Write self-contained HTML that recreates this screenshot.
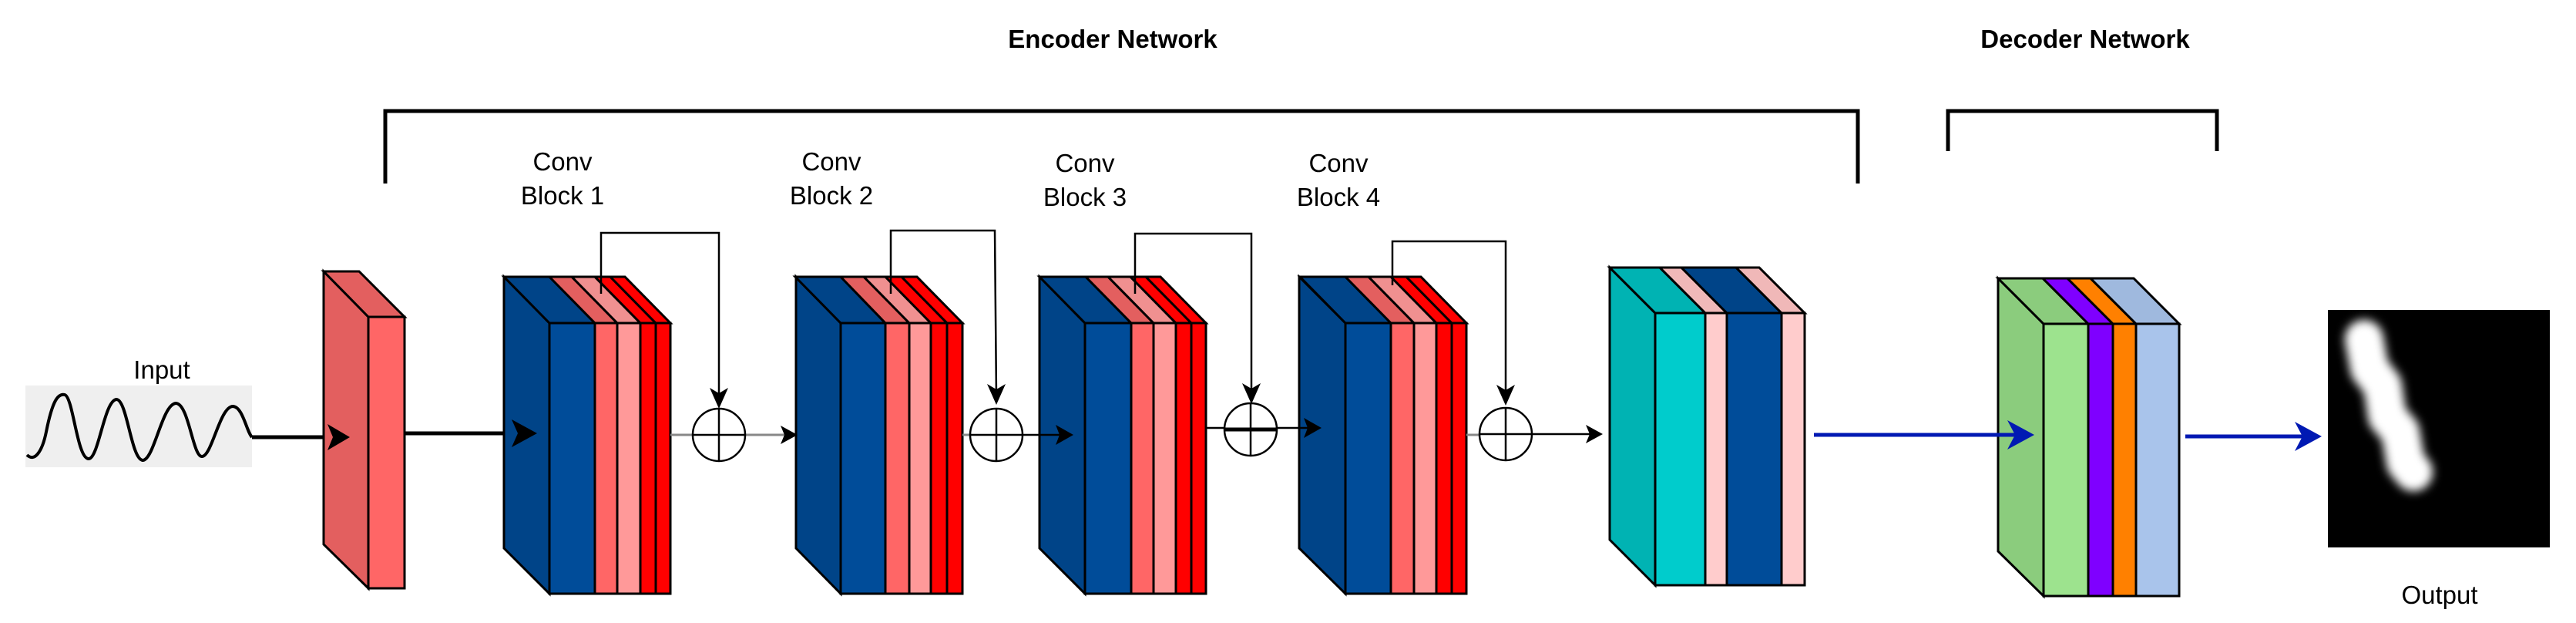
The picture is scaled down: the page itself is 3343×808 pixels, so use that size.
<!DOCTYPE html>
<html><head><meta charset="utf-8"><style>
html,body{margin:0;padding:0;background:#fff}
svg{display:block}
text{font-family:"Liberation Sans",sans-serif}
</style></head><body>
<svg width="3343" height="808" viewBox="0 0 3343 808" xmlns="http://www.w3.org/2000/svg">
<defs>
<filter id="bl" x="-100%" y="-100%" width="300%" height="300%"><feGaussianBlur stdDeviation="6"/></filter>
<clipPath id="oc"><rect x="3021" y="402" width="288" height="308"/></clipPath>
</defs>
<g stroke="#000" stroke-width="3" stroke-linejoin="miter">
<polyline points="500,238 500,144 2411,144 2411,238" fill="none" stroke-width="5"/>
<polyline points="2528,196 2528,144 2877,144 2877,196" fill="none" stroke-width="5"/>
</g>
<text x="1444" y="62" font-size="33" font-weight="bold" text-anchor="middle">Encoder Network</text>
<text x="2706" y="62" font-size="33" font-weight="bold" text-anchor="middle">Decoder Network</text>
<g font-size="33" text-anchor="middle">
<text x="730" y="221">Conv</text><text x="730" y="265">Block 1</text>
<text x="1079" y="221">Conv</text><text x="1079" y="265">Block 2</text>
<text x="1408" y="223">Conv</text><text x="1408" y="267">Block 3</text>
<text x="1737" y="223">Conv</text><text x="1737" y="267">Block 4</text>
<text x="210" y="491">Input</text>
<text x="3166" y="783">Output</text>
</g>
<!-- input -->
<rect x="33" y="500" width="294" height="106" fill="#efefef"/>
<path d="M35,590 C45,600 55,585 60,560 C68,520 75,510 84,512 C95,515 100,595 115,595 C128,595 135,520 151,518 C165,518 170,595 185,597 C200,597 210,525 228,523 C245,523 250,592 262,592 C275,592 285,528 302,527 C315,527 320,560 327,567" fill="none" stroke="#000" stroke-width="4"/>
<line x1="327" y1="567" x2="440" y2="567" stroke="#000" stroke-width="5"/>
<!-- red slab -->
<g stroke="#000" stroke-width="3">
<polygon points="420,352 478,411 478,763 420,706" fill="#e35f5f"/>
<polygon points="420,352 466,352 525,411 478,411" fill="#e35f5f"/>
<rect x="478" y="411" width="47" height="352" fill="#ff6666"/>
</g>
<polygon points="454,567 425,550 432,567 425,584" fill="#000"/>
<line x1="525" y1="562" x2="680" y2="562" stroke="#000" stroke-width="5"/>
<g stroke="#000" stroke-width="3">
<!-- Block1 -->
<polygon points="654,359 713,419 713,770 654,711" fill="#004488"/>
<polygon points="654,359 713,359 772,419 713,419" fill="#004488"/>
<polygon points="713,359 742,359 801,419 772,419" fill="#e35f5f"/>
<polygon points="742,359 772,359 831,419 801,419" fill="#f09090"/>
<polygon points="772,359 792,359 851,419 831,419" fill="#ff0000"/>
<polygon points="792,359 811,359 870,419 851,419" fill="#ff0000"/>
<rect x="713" y="419" width="59" height="351" fill="#004c99"/>
<rect x="772" y="419" width="29" height="351" fill="#ff6666"/>
<rect x="801" y="419" width="30" height="351" fill="#ff9999"/>
<rect x="831" y="419" width="20" height="351" fill="#ff0000"/>
<rect x="851" y="419" width="19" height="351" fill="#ff0000"/>
<!-- Block2 -->
<polygon points="1033,359 1091,419 1091,770 1033,711" fill="#004488"/>
<polygon points="1032,359 1091,359 1149,419 1091,419" fill="#004488"/>
<polygon points="1091,359 1121,359 1180,419 1149,419" fill="#e35f5f"/>
<polygon points="1121,359 1149,359 1208,419 1180,419" fill="#f09090"/>
<polygon points="1149,359 1170,359 1229,419 1208,419" fill="#ff0000"/>
<polygon points="1170,359 1190,359 1249,419 1229,419" fill="#ff0000"/>
<rect x="1091" y="419" width="58" height="351" fill="#004c99"/>
<rect x="1149" y="419" width="31" height="351" fill="#ff6666"/>
<rect x="1180" y="419" width="28" height="351" fill="#ff9999"/>
<rect x="1208" y="419" width="21" height="351" fill="#ff0000"/>
<rect x="1229" y="419" width="20" height="351" fill="#ff0000"/>
<!-- Block3 -->
<polygon points="1349,359 1408,419 1408,770 1349,711" fill="#004488"/>
<polygon points="1349,359 1409,359 1468,419 1408,419" fill="#004488"/>
<polygon points="1409,359 1438,359 1497,419 1468,419" fill="#e35f5f"/>
<polygon points="1438,359 1467,359 1526,419 1497,419" fill="#f09090"/>
<polygon points="1467,359 1487,359 1546,419 1526,419" fill="#ff0000"/>
<polygon points="1487,359 1506,359 1565,419 1546,419" fill="#ff0000"/>
<rect x="1408" y="419" width="60" height="351" fill="#004c99"/>
<rect x="1468" y="419" width="29" height="351" fill="#ff6666"/>
<rect x="1497" y="419" width="29" height="351" fill="#ff9999"/>
<rect x="1526" y="419" width="20" height="351" fill="#ff0000"/>
<rect x="1546" y="419" width="19" height="351" fill="#ff0000"/>
<!-- Block4 -->
<polygon points="1686,359 1746,419 1746,770 1686,711" fill="#004488"/>
<polygon points="1687,359 1746,359 1805,419 1746,419" fill="#004488"/>
<polygon points="1746,359 1776,359 1835,419 1805,419" fill="#e35f5f"/>
<polygon points="1776,359 1805,359 1864,419 1835,419" fill="#f09090"/>
<polygon points="1805,359 1825,359 1884,419 1864,419" fill="#ff0000"/>
<polygon points="1825,359 1844,359 1903,419 1884,419" fill="#ff0000"/>
<rect x="1746" y="419" width="59" height="351" fill="#004c99"/>
<rect x="1805" y="419" width="30" height="351" fill="#ff6666"/>
<rect x="1835" y="419" width="29" height="351" fill="#ff9999"/>
<rect x="1864" y="419" width="20" height="351" fill="#ff0000"/>
<rect x="1884" y="419" width="19" height="351" fill="#ff0000"/>
<!-- Cyan block -->
<polygon points="2089,347 2148,406 2148,759 2089,700" fill="#00b3b3"/>
<polygon points="2089,347 2154,347 2213,406 2148,406" fill="#00b3b3"/>
<polygon points="2154,347 2182,347 2241,406 2213,406" fill="#f0b8b8"/>
<polygon points="2182,347 2253,347 2312,406 2241,406" fill="#004488"/>
<polygon points="2253,347 2283,347 2342,406 2312,406" fill="#f0b8b8"/>
<rect x="2148" y="406" width="65" height="353" fill="#00cccc"/>
<rect x="2213" y="406" width="28" height="353" fill="#ffcccc"/>
<rect x="2241" y="406" width="71" height="353" fill="#004c99"/>
<rect x="2312" y="406" width="30" height="353" fill="#ffcccc"/>
<!-- Decoder block -->
<polygon points="2593,361 2652,420 2652,773 2593,715" fill="#8bcc7d"/>
<polygon points="2593,361 2651,361 2710,420 2652,420" fill="#8bcc7d"/>
<polygon points="2651,361 2683,361 2742,420 2710,420" fill="#7f00ff"/>
<polygon points="2683,361 2713,361 2772,420 2742,420" fill="#ff8000"/>
<polygon points="2713,361 2769,361 2828,420 2772,420" fill="#9fb9de"/>
<rect x="2652" y="420" width="58" height="353" fill="#9de38e"/>
<rect x="2710" y="420" width="32" height="353" fill="#7f00ff"/>
<rect x="2742" y="420" width="30" height="353" fill="#ff8000"/>
<rect x="2772" y="420" width="56" height="353" fill="#a9c4eb"/>
</g>
<polygon points="697,562 664,544 672,562 664,580" fill="#000"/>
<!-- skip connections -->
<g fill="none" stroke="#000" stroke-width="2.5">
<polyline points="780,381 780,302 933,302 933,520"/>
<polyline points="1156,381 1156,299 1291,299 1293,515"/>
<polyline points="1473,381 1473,303 1624,303 1624,515"/>
<polyline points="1807,370 1807,313 1954,313 1954,515"/>
</g>
<g fill="#000">
<polygon points="933,530 921,503 933,510 945,503"/>
<polygon points="1293,525 1281,498 1293,505 1305,498"/>
<polygon points="1624,524 1612,497 1624,504 1636,497"/>
<polygon points="1954,526 1942,499 1954,506 1966,499"/>
</g>
<g stroke="#888" stroke-width="3">
<line x1="870" y1="564" x2="900" y2="564"/>
<line x1="966" y1="564" x2="1020" y2="564"/>
<line x1="1249" y1="564" x2="1260" y2="564"/>
<line x1="1903" y1="564" x2="1921" y2="564"/>
</g>
<g stroke="#000" stroke-width="2.5">
<line x1="1326" y1="564" x2="1380" y2="564"/>
<line x1="1565" y1="555" x2="1700" y2="555"/>
<line x1="1987" y1="563" x2="2068" y2="563"/>
</g>
<g fill="#000">
<polygon points="1035,564 1013,552 1018,564 1013,576"/>
<polygon points="1393,564 1370,551 1375,564 1370,577"/>
<polygon points="1715,555 1692,542 1697,555 1692,568"/>
<polygon points="2080,563 2058,551 2063,563 2058,575"/>
</g>
<g fill="#fff" stroke="#000" stroke-width="2.5">
<circle cx="933" cy="564" r="34"/>
<circle cx="1293" cy="564" r="34"/>
<circle cx="1623" cy="557" r="34"/>
<circle cx="1954" cy="563" r="34"/>
</g>
<g stroke="#000" stroke-width="2.5">
<line x1="899" y1="564" x2="967" y2="564"/><line x1="933" y1="530" x2="933" y2="598"/>
<line x1="1259" y1="564" x2="1327" y2="564"/><line x1="1293" y1="530" x2="1293" y2="598"/>
<line x1="1589" y1="557" x2="1657" y2="557" stroke-width="5"/><line x1="1623" y1="523" x2="1623" y2="591"/>
<line x1="1920" y1="563" x2="1988" y2="563"/><line x1="1954" y1="529" x2="1954" y2="597"/>
</g>
<!-- blue arrows -->
<line x1="2354" y1="564" x2="2625" y2="564" stroke="#0019b3" stroke-width="5"/>
<polygon points="2640,564 2605,545 2615,564 2605,583" fill="#0019b3"/>
<line x1="2836" y1="566" x2="2998" y2="566" stroke="#0019b3" stroke-width="5"/>
<polygon points="3013,566 2978,547 2988,566 2978,585" fill="#0019b3"/>
<!-- output -->
<rect x="3021" y="402" width="288" height="308" fill="#000"/>
<g clip-path="url(#oc)">
<polyline points="3068,440 3075,478 3092,500 3098,540 3115,560 3122,600 3132,612" fill="none" stroke="#fff" stroke-width="50" stroke-linecap="round" stroke-linejoin="round" filter="url(#bl)"/>
</g>
</svg>
</body></html>
